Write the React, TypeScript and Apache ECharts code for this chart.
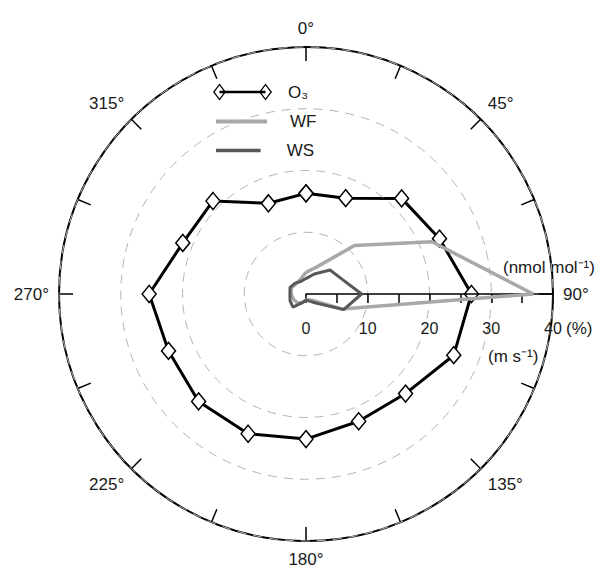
import React, { useEffect, useRef } from 'react';
import * as echarts from 'echarts';

// Compass directions (degrees, clockwise from north)
const directions = [0, 22.5, 45, 67.5, 90, 112.5, 135, 157.5, 180, 202.5, 225, 247.5, 270, 292.5, 315, 337.5];
// O3 (nmol mol-1)
const o3Values = [16.3, 16.8, 21.9, 23.4, 26.8, 25.9, 22.8, 22.3, 23.5, 24.5, 24.6, 24.1, 25.4, 21.6, 21.3, 15.9];
// Wind frequency (%)
const wfValues = [3.5, 4.8, 11.1, 22.1, 36.8, 6.3, 1.5, 1.0, 1.0, 1.5, 2.0, 2.2, 2.4, 2.6, 2.3, 2.5];
// Wind speed (m s-1)
const wsValues = [2.5, 3.5, 5.5, 6.3, 9.0, 6.6, 2.0, 1.2, 1.0, 1.5, 3.0, 2.8, 2.6, 2.8, 2.5, 2.2];

const radialMin = 0;
const radialMax = 40;
const radialInterval = 10;
const angleInterval = 22.5;
const seriesNames = ['O₃', 'WF', 'WS'];
const unitLabels = ['(nmol mol⁻¹)', '(%)', '(m s⁻¹)'];

const FONT = '"Liberation Sans", Arial, Helvetica, sans-serif';
const TEXT = '#1a1a1a';

// axis angle 0 is east (where the radial axis is drawn); compass 0 is north
const toAxisAngle = (d: number) => (d + 270) % 360;
const closedRing = (vals: number[]) => {
  const pts = directions.map((d, i) => [vals[i], toAxisAngle(d)]);
  pts.push(pts[0]);
  return pts;
};

const o3Icon =
  'path://M0,8.5 L6.5,0 L13,8.5 L6.5,17 Z M1.7,8.5 L6.5,15 L11.3,8.5 L6.5,2 Z ' +
  'M46,8.5 L52.5,0 L59,8.5 L52.5,17 Z M47.7,8.5 L52.5,15 L57.3,8.5 L52.5,2 Z ' +
  'M6.5,7.2 L52.5,7.2 L52.5,9.8 L6.5,9.8 Z';
const barIcon = 'path://M0,0 L51,0 L51,4 L0,4 Z';

export default function App() {
  const ref = useRef<HTMLDivElement>(null);
  useEffect(() => {
    if (!ref.current) return;
    const chart = echarts.init(ref.current, null, { renderer: 'svg' });
    const option: any = {
      animation: false,
      backgroundColor: '#fff',
      textStyle: { fontFamily: FONT },
      polar: { center: [306, 294], radius: 247 },
      angleAxis: {
        type: 'value',
        min: 0,
        max: 360,
        interval: angleInterval,
        startAngle: 0,
        clockwise: true,
        axisLine: { show: true, lineStyle: { color: '#000', width: 2 } },
        axisTick: { show: true, inside: true, length: 14, lineStyle: { color: '#000', width: 1.5 } },
        axisLabel: {
          show: true,
          margin: 10,
          fontSize: 17,
          color: TEXT,
          fontFamily: FONT,
          formatter: (v: number) => (v % 45 === 0 && v < 360 ? `${(v + 90) % 360}°` : ''),
        },
        splitLine: { show: false },
      },
      radiusAxis: {
        type: 'value',
        min: radialMin,
        max: radialMax,
        interval: radialInterval,
        z: 3,
        axisLine: { show: true, lineStyle: { color: '#000', width: 1.5 } },
        axisTick: { show: true, length: -9, lineStyle: { color: '#000', width: 1.5 } },
        minorTick: { show: true, splitNumber: 2, length: -9, lineStyle: { color: '#000', width: 1.5 } },
        axisLabel: { show: true, margin: -42, fontSize: 16, color: TEXT, fontFamily: FONT },
        splitLine: { show: true, lineStyle: { color: '#b4b4b4', width: 1, type: [9, 7] } },
      },
      legend: [
        {
          data: [{ name: seriesNames[0], icon: o3Icon, itemStyle: { color: '#000', borderColor: '#000', borderWidth: 0 } }],
          left: 213,
          top: 83.5,
          padding: 0,
          itemWidth: 59,
          itemHeight: 17,
          selectedMode: false,
          textStyle: { fontSize: 17, color: TEXT, fontFamily: FONT, padding: [0, 0, 0, 11] },
        },
        {
          data: [{ name: seriesNames[1], icon: barIcon, itemStyle: { color: '#a8a8a8', borderWidth: 0 } }],
          left: 216,
          top: 113,
          padding: 0,
          itemWidth: 51,
          itemHeight: 4,
          selectedMode: false,
          textStyle: { fontSize: 17, color: TEXT, fontFamily: FONT, padding: [0, 0, 0, 18] },
        },
        {
          data: [{ name: seriesNames[2], icon: barIcon, itemStyle: { color: '#585858', borderWidth: 0 } }],
          left: 216,
          top: 142,
          padding: 0,
          itemWidth: 51,
          itemHeight: 3.5,
          selectedMode: false,
          textStyle: { fontSize: 17, color: TEXT, fontFamily: FONT, padding: [0, 0, 0, 18] },
        },
      ],
      graphic: [
        { type: 'text', x: 503, y: 267, style: { text: unitLabels[0], font: `17px ${FONT}`, fill: TEXT, verticalAlign: 'middle' } },
        { type: 'text', x: 566, y: 328, style: { text: unitLabels[1], font: `17px ${FONT}`, fill: TEXT, verticalAlign: 'middle' } },
        { type: 'text', x: 488, y: 356, style: { text: unitLabels[2], font: `17px ${FONT}`, fill: TEXT, verticalAlign: 'middle' } },
      ],
      series: [
        {
          name: seriesNames[0],
          type: 'line',
          coordinateSystem: 'polar',
          data: closedRing(o3Values),
          symbol: 'diamond',
          symbolSize: [14, 17],
          showSymbol: true,
          itemStyle: { color: '#fff', borderColor: '#000', borderWidth: 1.5 },
          lineStyle: { color: '#000', width: 3 },
          z: 2,
        },
        {
          name: seriesNames[1],
          type: 'line',
          coordinateSystem: 'polar',
          data: closedRing(wfValues),
          symbol: 'none',
          itemStyle: { color: '#a8a8a8' },
          lineStyle: { color: '#a8a8a8', width: 3.5 },
          z: 3,
        },
        {
          name: seriesNames[2],
          type: 'line',
          coordinateSystem: 'polar',
          data: closedRing(wsValues),
          symbol: 'none',
          itemStyle: { color: '#585858' },
          lineStyle: { color: '#585858', width: 3 },
          z: 4,
        },
      ],
    };
    chart.setOption(option);
    return () => chart.dispose();
  }, []);
  return (
    <div
      ref={ref}
      style={{ position: 'fixed', left: 0, top: 0, width: 602, height: 570, background: '#fff' }}
    />
  );
}
